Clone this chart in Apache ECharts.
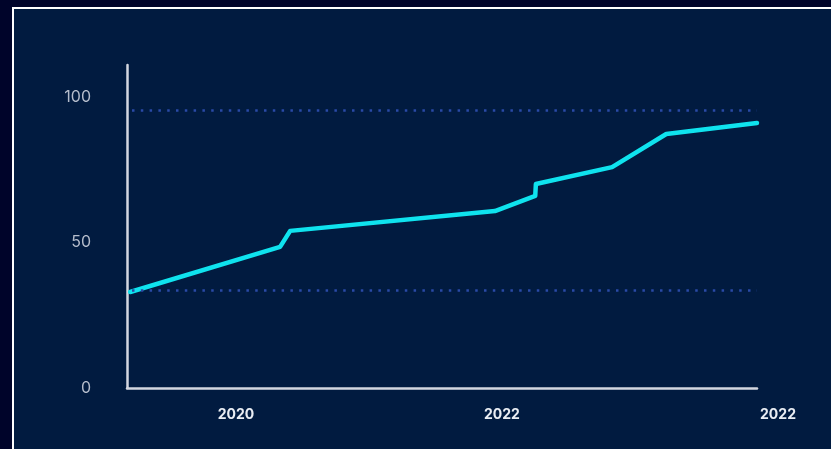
<!DOCTYPE html>
<html>
<head>
<meta charset="utf-8">
<script src="https://cdn.jsdelivr.net/npm/echarts@6/dist/echarts.min.js"></script>
<style>
    html, body { margin: 0; padding: 0; background: #00042a; overflow: hidden; }
    #frame {
        position: absolute; left: 12px; top: 7px;
        width: 817px; height: 440px;
        border-left: 2px solid #ffffff; border-top: 2px solid #ffffff;
        background: #011b40;
    }
    #trendChart { width: 817px; height: 440px; }
</style>
</head>
<body>
<div id="frame"><div id="trendChart"></div></div>
<script>
// x position along the time axis (0..100), y value
var xPos = [0.5, 24.3, 25.9, 58.4, 64.8, 64.9, 77.0, 85.6, 100];
var yVals = [33.0, 48.5, 54.0, 60.8, 66.0, 70.1, 75.9, 87.3, 91.1];
var xTickValues = [17.3, 59.5, 100];
var xTickLabels = ['2020', '2022', '2022'];
var yTickValues = [0, 50, 100];
var refLines = [95.5, 33.7];

var trend = {
    init: function () {
        var that = this
        that.drawLine()
    },
    drawLine: function () {
        var myChart = echarts.init(document.getElementById('trendChart'));
        var points = xPos.map(function (x, i) { return [x, yVals[i]]; });
        option = {
            backgroundColor: 'transparent',
            animation: false,
            grid: { left: 113, right: 74, top: 56, bottom: 61 },
            xAxis: {
                type: 'value',
                min: 0,
                max: 100,
                splitLine: { show: false },
                axisTick: { show: false },
                axisLine: { lineStyle: { color: '#d3d7e0', width: 2.5 } },
                axisLabel: {
                    customValues: xTickValues,
                    margin: 20,
                    color: '#e9edf3',
                    fontFamily: 'Inter',
                    fontWeight: 'bold',
                    fontSize: 14,
                    formatter: function (v) {
                        var i = xTickValues.indexOf(v);
                        var txt = i >= 0 ? xTickLabels[i] : '';
                        return i === xTickValues.length - 1 ? '{end|' + txt + '}' : txt;
                    },
                    rich: {
                        end: {
                            padding: [0, 0, 0, 42],
                            color: '#e9edf3',
                            fontFamily: 'Inter',
                            fontWeight: 'bold',
                            fontSize: 14
                        }
                    }
                }
            },
            yAxis: {
                type: 'value',
                min: 0,
                max: 111,
                splitLine: { show: false },
                axisTick: { show: false },
                axisLine: { show: true, lineStyle: { color: '#d3d7e0', width: 2.5 } },
                axisLabel: {
                    customValues: yTickValues,
                    margin: 36,
                    color: '#b4bccb',
                    fontFamily: 'Inter',
                    fontSize: 16
                }
            },
            series: [
                {
                    type: 'line',
                    data: points,
                    showSymbol: false,
                    symbol: 'none',
                    lineStyle: { color: '#0fe3ee', width: 4.5, cap: 'round', join: 'round' },
                    markLine: {
                        silent: true,
                        symbol: 'none',
                        label: { show: false },
                        lineStyle: { color: '#2a4aa6', width: 2.5, type: [2.5, 6.3], dashOffset: -5 },
                        data: refLines.map(function (v) { return { yAxis: v }; })
                    },
                    z: 3
                }
            ]
        };
        myChart.setOption(option);
    }
}
trend.init();
</script>
</body>
</html>
